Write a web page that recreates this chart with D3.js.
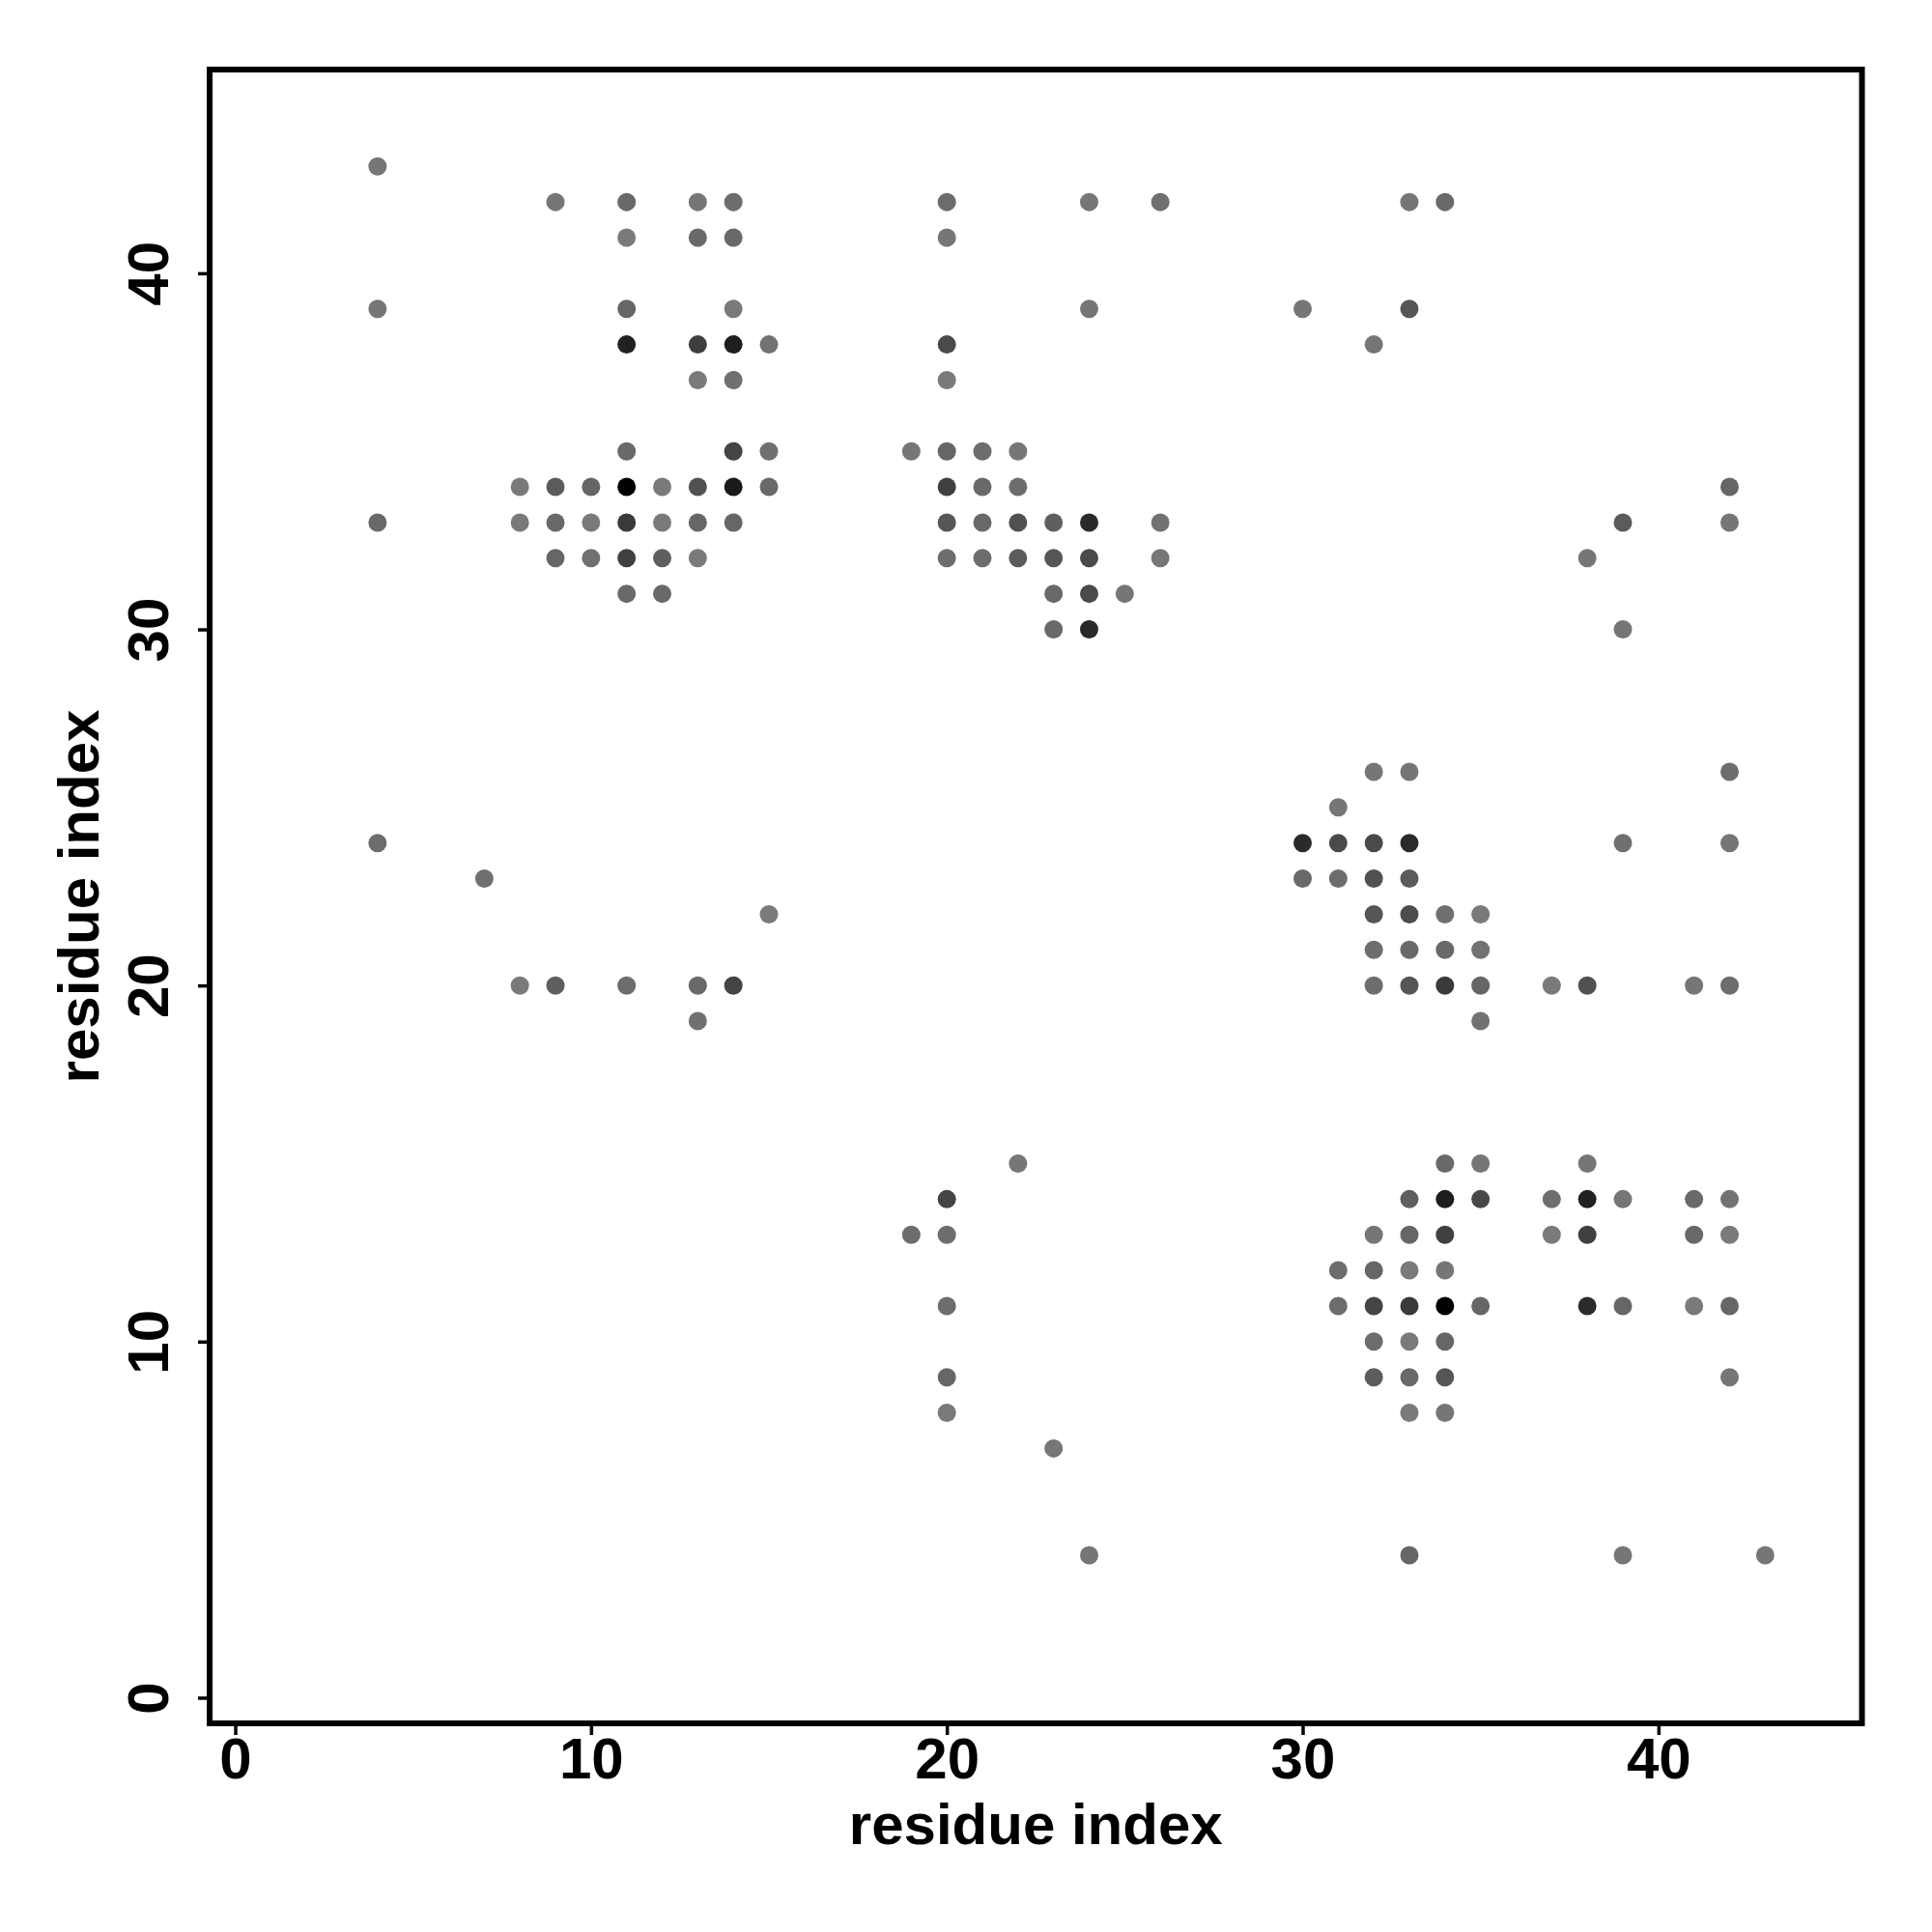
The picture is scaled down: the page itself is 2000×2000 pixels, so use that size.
<!DOCTYPE html>
<html>
<head>
<meta charset="utf-8">
<script src="https://cdn.jsdelivr.net/npm/d3@7"></script>
<style>
  html, body { margin: 0; padding: 0; background: #fff; }
  svg { display: block; }
</style>
</head>
<body>
<svg id="chart" width="2000" height="2000"></svg>
<script>
// ---- data: contact map (residue i, residue j, contact score) ----
const resX = [
  4,
  9,11,13,14,20,24,26,33,34,
  11,13,14,20,
  4,11,14,24,30,33,
  11,13,14,15,20,32,
  13,14,20,
  11,14,15,19,20,21,22,
  8,9,10,11,12,13,14,15,20,21,22,42,
  4,8,9,10,11,12,13,14,20,21,22,23,24,26,39,42,
  9,10,11,12,13,20,21,22,23,24,26,38,
  11,12,23,24,25,
  23,24,39,
  32,33,42,
  31,
  4,30,31,32,33,39,42,
  7,30,31,32,33,
  15,32,33,34,35,
  32,33,34,35,
  8,9,11,13,14,32,33,34,35,37,38,41,42,
  13,35,
  22,34,35,38,
  20,33,34,35,37,38,39,41,42,
  19,20,32,33,34,37,38,41,42,
  31,32,33,34,
  20,31,32,33,34,35,38,39,41,42,
  32,33,34,
  20,32,33,34,42,
  20,33,34,
  23,
  24,33,39,43
];
const resY = [
  43,
  42,42,42,42,42,42,42,42,42,
  41,41,41,41,
  39,39,39,39,39,39,
  38,38,38,38,38,38,
  37,37,37,
  35,35,35,35,35,35,35,
  34,34,34,34,34,34,34,34,34,34,34,34,
  33,33,33,33,33,33,33,33,33,33,33,33,33,33,33,33,
  32,32,32,32,32,32,32,32,32,32,32,32,
  31,31,31,31,31,
  30,30,30,
  26,26,26,
  25,
  24,24,24,24,24,24,24,
  23,23,23,23,23,
  22,22,22,22,22,
  21,21,21,21,
  20,20,20,20,20,20,20,20,20,20,20,20,20,
  19,19,
  15,15,15,15,
  14,14,14,14,14,14,14,14,14,
  13,13,13,13,13,13,13,13,13,
  12,12,12,12,
  11,11,11,11,11,11,11,11,11,11,
  10,10,10,
  9,9,9,9,9,
  8,8,8,
  7,
  4,4,4,4
];
const score = [
  .05,
  .05,.15,.05,.12,.12,.05,.10,.05,.15,
  .02,.15,.15,.05,
  .05,.18,.02,.05,.05,.31,
  .73,.50,.76,.08,.40,.05,
  .02,.10,.02,
  .15,.45,.10,.05,.18,.12,.05,
  .02,.27,.18,1.0,.02,.35,.79,.15,.48,.15,.12,.18,
  .15,.02,.15,.02,.53,.02,.18,.18,.31,.15,.35,.23,.66,.08,.27,.05,
  .18,.10,.48,.23,.02,.12,.12,.27,.31,.40,.05,.05,
  .15,.15,.15,.40,.05,
  .15,.66,.05,
  .05,.05,.12,
  .05,
  .12,.66,.40,.40,.66,.10,.05,
  .10,.15,.12,.35,.27,
  .02,.31,.38,.10,.02,
  .12,.15,.15,.08,
  .02,.23,.12,.15,.45,.12,.31,.53,.18,.02,.35,.05,.12,
  .10,.08,
  .05,.15,.05,.05,
  .45,.23,.76,.42,.12,.73,.05,.15,.08,
  .12,.12,.05,.18,.48,.02,.48,.15,.02,
  .12,.18,.02,.05,
  .12,.12,.45,.53,1.0,.18,.66,.18,.02,.18,
  .12,.02,.18,
  .18,.25,.15,.31,.05,
  .02,.02,.05,
  .05,
  .05,.18,.05,.05
];
const xTicks = [0, 10, 20, 30, 40];
const yTicks = [0, 10, 20, 30, 40];
const xTitle = "residue index";
const yTitle = "residue index";
const nResidues = 44;

// ---- layout ----
const svg = d3.select("#chart");
const pLeft = 217, pRight = 1927.5, pTop = 72, pBottom = 1784;
const pad = 0.04 * (nResidues - 1);
const domain = [1 - pad, nResidues + pad];

const x = d3.scaleLinear().domain(domain).range([pLeft, pRight]);
const y = d3.scaleLinear().domain(domain).range([pBottom, pTop]);
const shade = d3.scaleLinear().domain([0, 1]).range(["rgb(124,124,124)", "rgb(0,0,0)"]);

const points = resX.map((v, i) => ({ x: v, y: resY[i], s: score[i] }));
const font = "'Liberation Sans', Arial, Helvetica, sans-serif";

// points
svg.append("g")
  .selectAll("circle")
  .data(points)
  .join("circle")
  .attr("cx", d => x(d.x))
  .attr("cy", d => y(d.y))
  .attr("r", 9.5)
  .attr("fill", d => shade(d.s));

// x axis
const gx = svg.append("g")
  .attr("transform", `translate(0,${pBottom})`)
  .call(d3.axisBottom(x).tickValues(xTicks).tickSize(12).tickFormat(d3.format("d")));
gx.select(".domain").remove();
gx.selectAll(".tick line").attr("stroke", "#000").attr("stroke-width", 3.5);
gx.selectAll(".tick text")
  .attr("y", 57).attr("dy", null)
  .attr("fill", "#000")
  .style("font-family", font).style("font-weight", "bold").style("font-size", "60px");

// y axis
const gy = svg.append("g")
  .attr("transform", `translate(${pLeft},0)`)
  .call(d3.axisLeft(y).tickValues(yTicks).tickSize(12).tickFormat(d3.format("d")));
gy.select(".domain").remove();
gy.selectAll(".tick line").attr("stroke", "#000").attr("stroke-width", 3.5);
gy.selectAll(".tick text")
  .attr("x", 0).attr("y", -43).attr("dy", null)
  .attr("transform", "rotate(-90)")
  .attr("text-anchor", "middle")
  .attr("fill", "#000")
  .style("font-family", font).style("font-weight", "bold").style("font-size", "60px");

// frame
svg.append("rect")
  .attr("x", pLeft).attr("y", pTop)
  .attr("width", pRight - pLeft).attr("height", pBottom - pTop)
  .attr("fill", "none").attr("stroke", "#000").attr("stroke-width", 6);

// titles
svg.append("text")
  .attr("x", (pLeft + pRight) / 2).attr("y", 1909)
  .attr("text-anchor", "middle")
  .style("font-family", font).style("font-weight", "bold").style("font-size", "60px")
  .text(xTitle);

svg.append("text")
  .attr("transform", `translate(102,${(pTop + pBottom) / 2}) rotate(-90)`)
  .attr("text-anchor", "middle")
  .style("font-family", font).style("font-weight", "bold").style("font-size", "60px")
  .text(yTitle);
</script>
</body>
</html>
